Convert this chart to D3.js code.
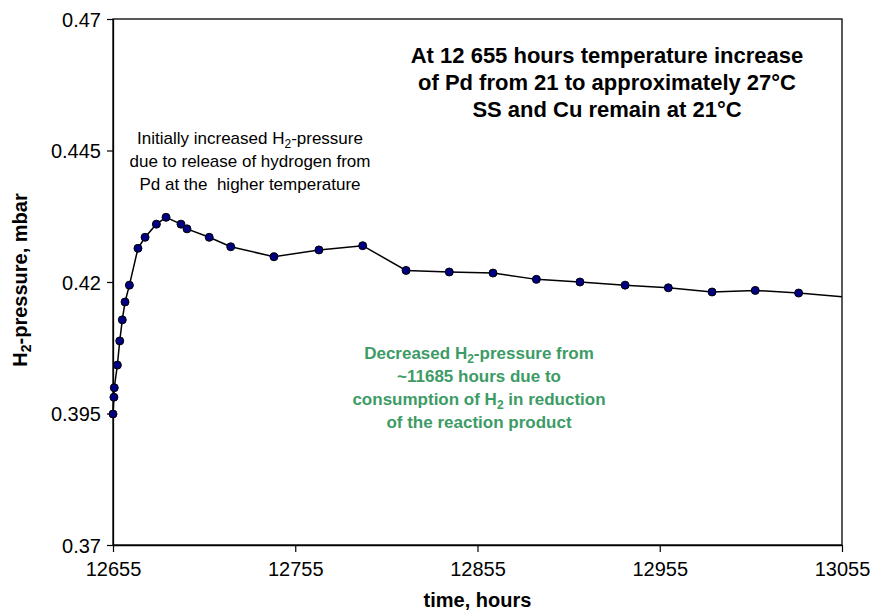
<!DOCTYPE html>
<html>
<head>
<meta charset="utf-8">
<script src="https://cdn.jsdelivr.net/npm/d3@7"></script>
<style>
  body { margin: 0; background: #fff; }
  svg { font-family: Arial, "Liberation Sans", sans-serif; }
</style>
</head>
<body>
<svg id="chart" width="875" height="615"></svg>
<script>
// readings taken off the plot
var hours = [12655, 12655.5, 12655.7, 12657.4, 12658.7, 12660.1, 12661.6, 12664, 12668.7, 12672.6,
  12678.8, 12684.1, 12692.3, 12695.6, 12707.8, 12719.6, 12743.3, 12768, 12792, 12815.8,
  12839.5, 12863.5, 12887.3, 12911.2, 12936, 12959.7, 12983.7, 13007.4, 13031.2, 13079]
var pressure = [0.3949, 0.3981, 0.3999, 0.4042, 0.4088, 0.4128, 0.4162, 0.4194, 0.4264, 0.4285,
  0.4310, 0.4323, 0.4310, 0.4301, 0.4285, 0.4267, 0.4248, 0.4261, 0.4269, 0.4222,
  0.4219, 0.4217, 0.4205, 0.4200, 0.4194, 0.4189, 0.4181, 0.4184, 0.4179, 0.4165]
var xTicks = [12655, 12755, 12855, 12955, 13055]
var yTicks = [0.37, 0.395, 0.42, 0.445, 0.47]

var margin = {left: 113, top: 19, right: 33, bottom: 70}
var svg = d3.select("#chart")
var w = 875 - margin.left - margin.right
var h = 615 - margin.top - margin.bottom

var x = d3.scaleLinear().domain([12655, 13055]).range([0, w])
var y = d3.scaleLinear().domain([0.37, 0.47]).range([h, 0])

var g = svg.append("g").attr("transform", `translate(${margin.left},${margin.top})`)

g.append("clipPath").attr("id", "plot-clip")
  .append("rect").attr("x", -6).attr("y", -6).attr("width", w + 6).attr("height", h + 12)

// frame
g.append("rect").attr("width", w).attr("height", h)
  .attr("fill", "none").attr("stroke", "#000").attr("stroke-width", 1.3)

var xAxis = g.append("g").attr("transform", `translate(0,${h})`)
  .call(d3.axisBottom(x).tickValues(xTicks).tickFormat(d3.format("d")).tickSizeInner(7).tickSizeOuter(0).tickPadding(10))
var yAxis = g.append("g")
  .call(d3.axisLeft(y).tickValues(yTicks).tickFormat(d => d3.format("")(+d.toFixed(3))).tickSizeInner(6).tickSizeOuter(0).tickPadding(6))

;[xAxis, yAxis].forEach(a => {
  a.select(".domain").attr("stroke", "#000").attr("stroke-width", 1.3)
  a.selectAll(".tick line").attr("stroke", "#000").attr("stroke-width", 1.2)
  a.selectAll(".tick text").attr("fill", "#000").style("font-size", "20px")
    .style("font-family", "Arial, 'Liberation Sans', sans-serif")
})
yAxis.selectAll(".tick text").attr("dy", "0.35em")

var line = d3.line().x((d, i) => x(hours[i])).y(d => y(d))
var plot = g.append("g").attr("clip-path", "url(#plot-clip)")
plot.append("path").datum(pressure).attr("d", line)
  .attr("fill", "none").attr("stroke", "#000").attr("stroke-width", 1.5)

plot.selectAll("circle").data(pressure).enter().append("circle")
  .filter((d, i) => hours[i] <= 13055)
  .attr("cx", (d, i) => x(hours[i])).attr("cy", d => y(d)).attr("r", 4)
  .attr("fill", "#000080").attr("stroke", "#000").attr("stroke-width", 1)

// axis titles
svg.append("text").attr("x", margin.left + w / 2).attr("y", 607)
  .attr("text-anchor", "middle").style("font-size", "20px").style("font-weight", "bold")
  .text("time, hours")

var yt = svg.append("text").attr("transform", "translate(27,280) rotate(-90)")
  .attr("text-anchor", "middle").style("font-size", "20px").style("font-weight", "bold")
yt.append("tspan").text("H")
yt.append("tspan").text("2").style("font-size", "14px").attr("dy", 4)
yt.append("tspan").text("-pressure, mbar").attr("dy", -4)

// annotations: each line is a list of [text, subscript?] pieces
function note(lines, cx, y0, dy, size, weight, color) {
  lines.forEach((parts, k) => {
    var t = svg.append("text").attr("x", cx).attr("y", y0 + k * dy)
      .attr("text-anchor", "middle").style("font-size", size + "px")
      .style("font-weight", weight).style("white-space", "pre").attr("fill", color)
    parts.forEach((p, j) => {
      var prevSub = j > 0 && parts[j - 1][1]
      var s = t.append("tspan").text(p[0])
      if (p[1]) s.style("font-size", Math.round(size * 0.7) + "px").attr("dy", 4)
      else if (prevSub) s.attr("dy", -4)
    })
  })
}

note([[["At 12 655 hours temperature increase"]],
      [["of Pd from 21 to approximately 27°C"]],
      [["SS and Cu remain at 21°C"]]], 607, 63, 27, 22, "bold", "#000")

note([[["Initially increased H"], ["2", true], ["-pressure"]],
      [["due to release of hydrogen from"]],
      [["Pd at the  higher temperature"]]], 250, 144, 23, 17, "normal", "#000")

note([[["Decreased H"], ["2", true], ["-pressure from"]],
      [["~11685 hours due to"]],
      [["consumption of H"], ["2", true], [" in reduction"]],
      [["of the reaction product"]]], 479, 359, 23, 17, "bold", "#3d9b66")
</script>
</body>
</html>
